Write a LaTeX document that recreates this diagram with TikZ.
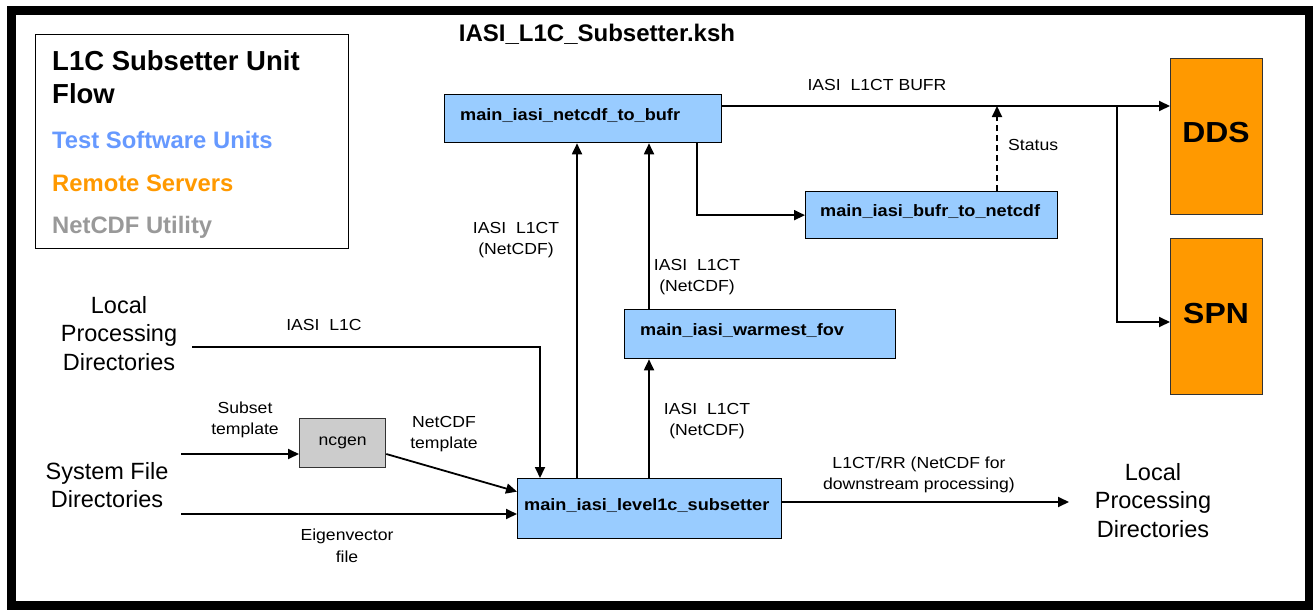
\documentclass[tikz,border=0pt]{standalone}
\usepackage{fontspec}
\setmainfont{Liberation Sans}
\newfontfamily\labfont[FakeStretch=1.1]{Liberation Sans}
\usetikzlibrary{arrows.meta}
\definecolor{boxblue}{HTML}{99CCFF}
\definecolor{srvorange}{HTML}{FF9900}
\definecolor{utilgrey}{HTML}{CCCCCC}
\definecolor{legblue}{HTML}{6699FF}
\definecolor{leggrey}{HTML}{999999}
\tikzset{
  unitbox/.style={draw=black, line width=1.3pt, fill=boxblue, inner sep=0pt, anchor=north west},
  srvbox/.style={draw=black!80, line width=1.3pt, fill=srvorange, inner sep=0pt, anchor=north west},
  utilbox/.style={draw=black!80, line width=1.3pt, fill=utilgrey, inner sep=0pt, anchor=north west,
     font=\labfont\fontsize{16}{20}\selectfont},
  legendbox/.style={draw=black, line width=1.3pt, inner sep=0pt, anchor=north west},
  conn/.style={line width=1.8pt, -{Triangle[length=11pt,width=10pt]}},
  boxlab/.style={font=\labfont\bfseries\fontsize{16.5}{20}\selectfont, inner sep=0pt, anchor=base west},
  lab/.style={font=\labfont\fontsize{16}{21.5}\selectfont, inner sep=0pt, align=center, anchor=base},
  biglab/.style={font=\fontsize{23.5}{28.4}\selectfont, inner sep=0pt, align=center, anchor=base},
  srvlab/.style={font=\labfont\bfseries\fontsize{29}{30}\selectfont, inner sep=0pt, anchor=base},
  legtitle/.style={font=\bfseries\fontsize{27.5}{33.5}\selectfont, inner sep=0pt, align=left, anchor=base west},
  legitem/.style={font=\bfseries\fontsize{23.8}{28}\selectfont, inner sep=0pt, anchor=base west},
}
\begin{document}
\begin{tikzpicture}[x=1pt,y=-1pt]
\useasboundingbox (0,0) rectangle (1313,610);
\fill[white] (0,0) rectangle (1313,610);
% outer frame
\draw[line width=9pt] (11.5,10.5) rectangle (1309.5,605);

% title
\node[font=\bfseries\fontsize{24}{28}\selectfont, inner sep=0pt, anchor=base] (title) at (597,41.7) {IASI\_L1C\_Subsetter.ksh};

% legend (multi-line nodes: base = baseline of last line)
\node[legendbox, minimum width=313pt, minimum height=214pt] (legend) at (35,34) {};
\node[legtitle] (legt) at (52,103.5) {L1C Subsetter Unit\\Flow};
\node[legitem, text=legblue] (leg1) at (52,148) {Test Software Units};
\node[legitem, text=srvorange] (leg2) at (52,191) {Remote Servers};
\node[legitem, text=leggrey] (leg3) at (52,233.5) {NetCDF Utility};

% boxes
\node[unitbox, minimum width=277pt, minimum height=48pt] (nb) at (444,94) {};
\node[boxlab] (nbt) at (460,120) {main\_iasi\_netcdf\_to\_bufr};
\node[unitbox, minimum width=252pt, minimum height=47pt] (bn) at (805,191) {};
\node[boxlab] (bnt) at (820,216) {main\_iasi\_bufr\_to\_netcdf};
\node[unitbox, minimum width=271pt, minimum height=49pt] (wf) at (624,309) {};
\node[boxlab] (wft) at (640,335) {main\_iasi\_warmest\_fov};
\node[unitbox, minimum width=264pt, minimum height=60pt] (ls) at (517,478) {};
\node[boxlab] (lst) at (524,510) {main\_iasi\_level1c\_subsetter};
\node[utilbox, minimum width=86pt, minimum height=49pt] (ncgen) at (299,418) {ncgen};
\node[srvbox, minimum width=92pt, minimum height=156pt] (dds) at (1170,58) {};
\node[srvlab] (ddst) at (1216,142.7) {DDS};
\node[srvbox, minimum width=92pt, minimum height=156pt] (spn) at (1170,238) {};
\node[srvlab] (spnt) at (1216,323.3) {SPN};

% side labels
\node[biglab] (lpdl) at (119,370) {Local\\Processing\\Directories};
\node[biglab] (sfd) at (107,507.7) {System File\\Directories};
\node[biglab] (lpdr) at (1153,537.3) {Local\\Processing\\Directories};

% helper coordinates
\coordinate (x1) at (577,0);
\coordinate (x2) at (649,0);
\coordinate (x3) at (697,0);
\coordinate (x4) at (997,0);
\coordinate (x5) at (1117,0);
\coordinate (x6) at (540,0);
\coordinate (y1) at (0,106);
\coordinate (y2) at (0,322);
\coordinate (y3) at (0,502);
\coordinate (lpdstart) at (192,347);
\coordinate (sfd1) at (181,454);
\coordinate (sfd2) at (181,514);
\coordinate (lpdend) at (1069,502);

% connectors
\draw[conn] (lpdstart) -| (x6 |- ls.north);
\draw[conn] (sfd1) -- (sfd1 -| ncgen.west);
\draw[conn] (sfd1 -| ncgen.east) -- ([yshift=17pt]ls.west);
\draw[conn] (sfd2) -- (sfd2 -| ls.west);
\draw[conn] (x1 |- ls.north) -- (x1 |- nb.south);
\draw[conn] (x2 |- ls.north) -- (x2 |- wf.south);
\draw[conn] (x2 |- wf.north) -- (x2 |- nb.south);
\draw[conn] (x3 |- nb.south) |- (bn.west);
\draw[conn] (nb.east |- y1) -- (dds.west |- y1);
\draw[conn] (x5 |- y1) |- (spn.west |- y2);
\draw[conn, dash pattern=on 6pt off 4pt] (x4 |- bn.north) -- (x4 |- y1);
\draw[conn] (ls.east |- y3) -- (lpdend);

% connector labels
\node[lab] (l1) at (324,330) {IASI\ \ L1C};
\node[lab] (l2) at (245,434.8) {Subset\\template};
\node[lab] (l3) at (444,448.5) {NetCDF\\template};
\node[lab] (l4) at (347,562.2) {Eigenvector\\file};
\node[lab] (l5) at (516,254.5) {IASI\ \ L1CT\\(NetCDF)};
\node[lab] (l6) at (697,291.5) {IASI\ \ L1CT\\(NetCDF)};
\node[lab] (l7) at (707,435.5) {IASI\ \ L1CT\\(NetCDF)};
\node[lab] (l8) at (919,489.8) {L1CT/RR (NetCDF for\\downstream processing)};
\node[lab] (l9) at (877,90) {IASI\ \ L1CT BUFR};
\node[lab, anchor=base west] (l10) at (1008,150) {Status};
\end{tikzpicture}
\end{document}
